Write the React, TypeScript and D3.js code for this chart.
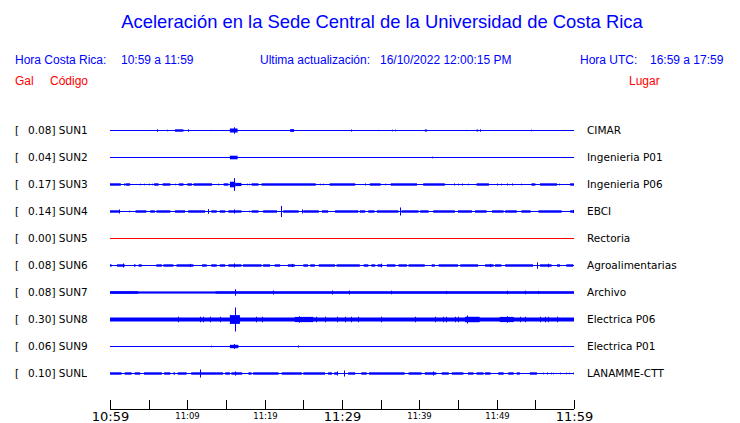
import { useMemo } from 'react';
import * as d3 from 'd3';

// stations, top to bottom
const codes = ['SUN1', 'SUN2', 'SUN3', 'SUN4', 'SUN5', 'SUN6', 'SUN7', 'SUN8', 'SUN9', 'SUNL'];
const peaks = [0.08, 0.04, 0.17, 0.14, 0.0, 0.08, 0.08, 0.3, 0.06, 0.1];
const places = [
  'CIMAR', 'Ingenieria P01', 'Ingenieria P06', 'EBCI', 'Rectoria',
  'Agroalimentarias', 'Archivo', 'Electrica P06', 'Electrica P01', 'LANAMME-CTT',
];

// noise bursts: [start min, end min, amplitude Gal], minutes after 10:59
const sun1Bursts = [[8.4, 9.5, 0.03], [15.5, 16.5, 0.05], [23.3, 23.8, 0.035], [40.7, 41.0, 0.025], [47.4, 47.6, 0.025]];
const sun2Bursts = [[15.5, 16.5, 0.045]];
const sun3Bursts = [
  [0, 1.4, 0.03], [2, 2.6, 0.03], [5.7, 6.3, 0.03], [6.8, 7.8, 0.03], [8.9, 9.5, 0.03], [10, 10.6, 0.03],
  [10.8, 13.2, 0.03], [14.7, 15.3, 0.03], [15.5, 16.2, 0.07], [16.2, 17, 0.04], [18.3, 19.2, 0.03],
  [19.6, 26.6, 0.03], [28.4, 31.7, 0.03], [33.6, 35, 0.03], [36.3, 39.7, 0.03], [40.5, 43.3, 0.03],
  [47.4, 49, 0.03], [54.5, 55, 0.03], [55.6, 57.8, 0.03], [59.5, 60, 0.03],
];
const sun4Bursts = [
  [0, 1.3, 0.03], [3.3, 4.7, 0.03], [5.2, 5.8, 0.03], [6, 7.8, 0.03], [8.4, 9.7, 0.03], [10.1, 12.3, 0.03],
  [13.1, 13.8, 0.03], [14.2, 14.9, 0.03], [15.3, 17, 0.03], [18.3, 19.2, 0.03], [19.8, 21.6, 0.03],
  [22.4, 24.4, 0.03], [25, 27, 0.03], [27.4, 28.2, 0.03], [29.1, 32.1, 0.03], [32.3, 33, 0.03],
  [33.4, 34.2, 0.03], [34.5, 37.3, 0.03], [37.7, 39.9, 0.03], [40.1, 41.2, 0.03], [41.8, 44.6, 0.03],
  [45, 46.8, 0.03], [47.2, 48.7, 0.03], [49.4, 50.9, 0.03], [51.1, 52.6, 0.03], [53.2, 54.4, 0.03],
  [55.4, 58.4, 0.03], [59.5, 60, 0.03],
];
const sun5Bursts: number[][] = [];
const sun6Bursts = [
  [0, 0.2, 0.03], [0.9, 1.9, 0.03], [3.1, 3.3, 0.03], [3.7, 4.1, 0.03], [6, 6.7, 0.03], [6.9, 8.2, 0.03],
  [8.6, 10.8, 0.03], [11.9, 12.5, 0.03], [13.1, 13.8, 0.03], [14.2, 14.9, 0.03], [15.3, 17, 0.03],
  [17.2, 19.6, 0.03], [19.8, 20.7, 0.03], [21.3, 22, 0.03], [23, 23.9, 0.03], [25, 25.6, 0.03],
  [25.9, 26.5, 0.03], [27, 29.1, 0.03], [29.3, 32.3, 0.03], [32.8, 33.4, 0.03], [33.8, 34.3, 0.03],
  [34.6, 35.2, 0.03], [35.8, 36.9, 0.03], [37.3, 38.4, 0.03], [38.6, 40.7, 0.03], [41.6, 42, 0.03],
  [42.5, 45, 0.03], [45.3, 47.6, 0.03], [48.5, 49.6, 0.03], [49.8, 50.6, 0.03], [51.1, 54.7, 0.03],
  [55.6, 57.1, 0.03], [57.8, 58.2, 0.03], [59, 59.9, 0.03],
];
const sun7Bursts = [[0, 3.7, 0.035], [3.7, 13.6, 0.027], [13.6, 60, 0.033]];
const sun8Bursts = [[0, 60, 0.05], [15.5, 16.8, 0.11], [23.9, 26.3, 0.065], [45.9, 47.8, 0.068], [50.4, 52.2, 0.065]];
const sun9Bursts = [[15.5, 16.6, 0.042]];
const sunlBursts = [
  [0, 1.5, 0.03], [1.9, 2.8, 0.03], [3.2, 3.9, 0.03], [4.4, 6.7, 0.03], [7, 7.8, 0.03], [8.2, 8.4, 0.03],
  [8.75, 9.9, 0.03], [10.5, 13.8, 0.03], [13.8, 14.6, 0.03], [14.9, 15.5, 0.03], [15.7, 17.1, 0.03],
  [17.9, 18.3, 0.03], [18.5, 21.8, 0.03], [22.2, 24.8, 0.03], [25, 27.8, 0.03], [28.2, 28.7, 0.03],
  [29, 29.5, 0.03], [30.8, 31.7, 0.03], [32.5, 33.2, 0.03], [33.5, 38.1, 0.03], [38.6, 40.3, 0.03],
  [40.7, 42.2, 0.03], [42.9, 43.8, 0.03], [44.2, 45.7, 0.03], [46.3, 47, 0.03], [47.4, 48.3, 0.03],
  [48.5, 49.2, 0.03], [50.2, 50.9, 0.03], [51.5, 52.2, 0.03], [52.6, 53, 0.03], [54.3, 55.2, 0.03],
];

// single spikes: [minute, amplitude Gal]
const sun1Spikes = [[6.1, 0.03], [7.4, 0.02], [10.1, 0.03], [13.0, 0.015], [14.5, 0.015], [16.0, 0.08], [31.2, 0.025], [34.7, 0.015], [36.5, 0.02], [36.8, 0.02], [46.0, 0.015], [47.8, 0.03], [54.4, 0.02]];
const sun2Spikes = [[41.7, 0.02]];
const sun3Spikes = [
  [16.0, 0.16], [1.8, 0.025], [3.9, 0.02], [4.4, 0.02], [5.0, 0.02], [5.4, 0.02], [8.4, 0.02], [14.0, 0.02],
  [17.7, 0.02], [18.0, 0.02], [27.2, 0.02], [27.6, 0.02], [33.0, 0.025], [35.6, 0.02], [44.5, 0.025],
  [45.0, 0.02], [45.5, 0.025], [46.3, 0.02], [50.0, 0.025], [50.6, 0.02], [51.3, 0.025], [52.0, 0.025],
  [53.1, 0.02], [58.0, 0.02],
];
const sun4Spikes = [[1.2, 0.05], [2.4, 0.02], [12.7, 0.06], [16.0, 0.05], [18.0, 0.02], [22.1, 0.14], [24.8, 0.05], [37.5, 0.1], [59.9, 0.04]];
const sun5Spikes: number[][] = [];
const sun6Spikes = [[1.7, 0.05], [10.3, 0.04], [16.0, 0.05], [23.5, 0.04], [35.0, 0.045], [49.1, 0.04], [55.2, 0.08], [56.7, 0.045]];
const sun7Spikes = [[16.1, 0.08], [21.1, 0.05], [28.7, 0.05], [30.9, 0.05], [36.3, 0.045], [43.5, 0.04], [51.3, 0.045], [53.7, 0.045], [55.4, 0.04]];
const sun8Spikes = [
  [16.1, 0.3], [8.75, 0.068], [11.6, 0.068], [12.0, 0.068], [12.9, 0.068], [14.2, 0.068], [18.9, 0.068],
  [19.6, 0.068], [24.4, 0.08], [26.7, 0.068], [27.8, 0.068], [29.3, 0.068], [30.4, 0.068], [31.2, 0.068],
  [32.1, 0.068], [35.1, 0.068], [39.4, 0.068], [42.0, 0.068], [43.1, 0.068], [43.5, 0.068], [44.6, 0.068],
  [45.0, 0.068], [46.2, 0.1], [51.3, 0.08], [53.0, 0.068], [53.7, 0.068], [55.6, 0.068], [56.2, 0.068],
  [56.7, 0.068], [57.8, 0.068],
];
const sun9Spikes = [[16.0, 0.06], [13.0, 0.02], [24.3, 0.025]];
const sunlSpikes = [[11.7, 0.1], [16.1, 0.05], [29.3, 0.05], [30.3, 0.075], [41.8, 0.05], [56.0, 0.02], [56.5, 0.025], [57.0, 0.02], [57.3, 0.02], [58.2, 0.02], [59.0, 0.02], [59.4, 0.02], [59.9, 0.02]];

const bursts = [sun1Bursts, sun2Bursts, sun3Bursts, sun4Bursts, sun5Bursts, sun6Bursts, sun7Bursts, sun8Bursts, sun9Bursts, sunlBursts];
const spikes = [sun1Spikes, sun2Spikes, sun3Spikes, sun4Spikes, sun5Spikes, sun6Spikes, sun7Spikes, sun8Spikes, sun9Spikes, sunlSpikes];

const start = new Date(2022, 9, 16, 10, 59);
const end = new Date(2022, 9, 16, 11, 59);
const tickMinutes = d3.range(0, 61, 5);

const BLUE = '#0000ff';
const RED = '#ff0000';
const SANS = '"Liberation Sans", Arial, sans-serif';
const DEJAVU = '"DejaVu Sans", sans-serif';

export default function App() {
  const width = 740;
  const height = 423;

  const x = useMemo(() => d3.scaleTime().domain([start, end]).range([110, 574]), []);
  const at = (m: number) => x(new Date(start.getTime() + m * 60000));
  const y = useMemo(() => d3.scalePoint<string>().domain(codes).range([130, 373]), []);
  const amp = useMemo(() => d3.scaleLinear().domain([0, 0.3]).range([0, 12]), []);
  const fmt = d3.timeFormat('%H:%M');
  const axisY = 409;

  return (
    <svg width={width} height={height} style={{ position: 'absolute', left: 0, top: 0, background: '#fff' }}>
      <rect width={width} height={height} fill="#fff" />
      <text x={382} y={28} textAnchor="middle" fill={BLUE} fontFamily={SANS} fontSize={18.4}>
        Aceleración en la Sede Central de la Universidad de Costa Rica
      </text>

      <g fontFamily={SANS} fontSize={12} fill={BLUE}>
        <text x={15} y={64}>Hora Costa Rica:</text>
        <text x={121} y={64}>10:59 a 11:59</text>
        <text x={260} y={64}>Ultima actualización:</text>
        <text x={380} y={64}>16/10/2022 12:00:15 PM</text>
        <text x={580} y={64}>Hora UTC:</text>
        <text x={650} y={64}>16:59 a 17:59</text>
      </g>
      <g fontFamily={SANS} fontSize={12} fill={RED}>
        <text x={15} y={85}>Gal</text>
        <text x={50} y={85}>Código</text>
        <text x={629} y={85}>Lugar</text>
      </g>

      {codes.map((code, i) => {
        const cy = (y(code) as number) + 0.5;
        const color = peaks[i] === 0 ? RED : BLUE;
        return (
          <g key={code}>
            <text x={15} y={cy + 3.5} fontFamily={DEJAVU} fontSize={10.5} fill="#000">[</text>
            <text x={28} y={cy + 3.5} fontFamily={DEJAVU} fontSize={10.5} fill="#000">
              {`${peaks[i].toFixed(2)}] ${code}`}
            </text>
            <text x={587} y={cy + 3.5} fontFamily={DEJAVU} fontSize={10.5} fill="#000">{places[i]}</text>
            <line x1={at(0)} x2={at(60)} y1={cy} y2={cy} stroke={color} strokeWidth={1} />
            {bursts[i].map(([t0, t1, a], j) => (
              <rect key={`b${j}`} x={at(t0)} width={at(t1) - at(t0)} y={cy - amp(a)} height={2 * amp(a)} fill={color} />
            ))}
            {spikes[i].map(([t, a], j) => {
              const sx = Math.round(at(t)) + 0.5;
              return <line key={`s${j}`} x1={sx} x2={sx} y1={cy - amp(a)} y2={cy + amp(a)} stroke={color} strokeWidth={1} />;
            })}
          </g>
        );
      })}

      <g>
        <line x1={at(0)} x2={at(60)} y1={axisY + 0.5} y2={axisY + 0.5} stroke="#000" />
        {tickMinutes.map((m) => {
          const tx = Math.round(at(m)) + 0.5;
          const d = new Date(start.getTime() + m * 60000);
          const major = m % 30 === 0;
          const labeled = m % 10 === 0;
          return (
            <g key={m}>
              <line x1={tx} x2={tx} y1={axisY - 9} y2={axisY} stroke="#000" />
              {labeled && (
                <text
                  x={tx}
                  y={major ? 421 : 419}
                  textAnchor="middle"
                  fontFamily={DEJAVU}
                  fontSize={major ? 13 : 8.5}
                  fill="#000"
                >
                  {fmt(d)}
                </text>
              )}
            </g>
          );
        })}
      </g>
    </svg>
  );
}
